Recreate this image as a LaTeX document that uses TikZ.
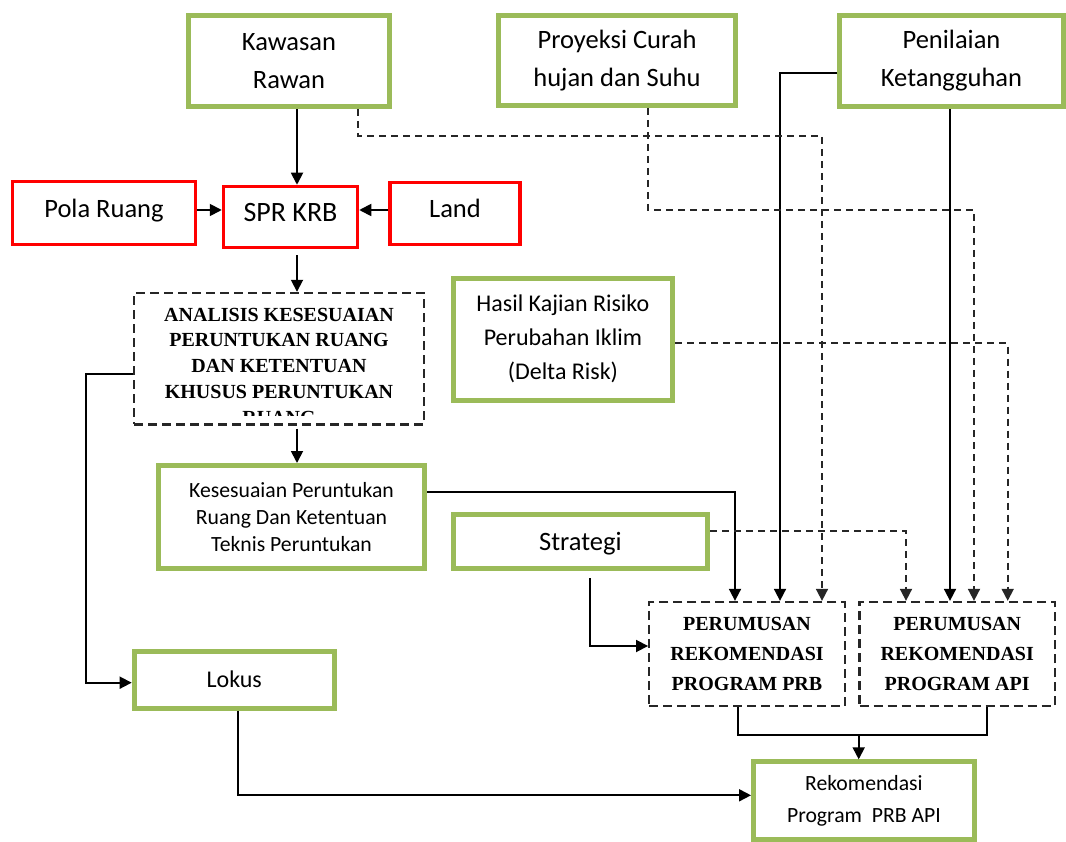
\documentclass[tikz,border=0pt]{standalone}
\usepackage{fontspec}
\setmainfont{Carlito}
\newfontfamily\judul{Liberation Serif}
\usetikzlibrary{arrows.meta}
\definecolor{hijau}{RGB}{155,187,89}

\begin{document}
\begin{tikzpicture}[x=1pt,y=-1pt,
	>={Triangle[length=12pt,width=12pt]},
	kotakhijau/.style={draw=hijau, line width=5pt, align=center, inner sep=0pt},
	kotakmerah/.style={draw=red, line width=3.5pt, align=center, inner sep=0pt, text height=17pt, text depth=8pt},
	kotakputus/.style={draw=black!85, line width=2.3pt, dash pattern=on 9pt off 5pt, align=center, inner sep=0pt},
	besar/.style={font={\fontsize{26.5}{38}\selectfont}},
	kecil/.style={font={\fontsize{21.7}{27}\selectfont}},
	tebal/.style={font={\judul\bfseries\fontsize{20}{#1}\selectfont}},
	garis/.style={line width=1.8pt},
	putus/.style={line width=1.8pt, dash pattern=on 7pt off 5pt, draw=black!85}]
	\useasboundingbox (0,0) rectangle (1066,842);

	% kotak atas
	\node[kotakhijau, besar, minimum width=201pt, minimum height=91pt] (kawasan) at (289,61) {Kawasan\\Rawan};
	\node[kotakhijau, besar, minimum width=237pt, minimum height=90pt] (proyeksi) at (617,60.5) {Proyeksi Curah\\hujan dan Suhu};
	\node[kotakhijau, besar, minimum width=224pt, minimum height=91pt] (penilaian) at (951.5,61) {Penilaian\\Ketangguhan};

	% kotak merah
	\node[kotakmerah, besar, minimum width=183pt, minimum height=63pt] (pola) at (104,213) {Pola Ruang};
	\node[kotakmerah, font={\fontsize{28}{34}\selectfont}, minimum width=134pt, minimum height=61pt] (spr) at (290.5,217) {SPR KRB};
	\node[kotakmerah, besar, minimum width=130pt, minimum height=62pt] (land) at (455,213.5) {Land};

	% analisis (teks terpotong)
	\node[kotakputus, minimum width=289.6pt, minimum height=131.5pt] (analisis) at (279,358.7) {};
	\begin{scope}
		\clip ([yshift=9.7pt]analisis.south west) rectangle (analisis.north east);
		\node[tebal=25.7, align=center, inner sep=0pt, anchor=north] (analisisteks) at ([yshift=-16pt]analisis.north)
			{ANALISIS KESESUAIAN\\PERUNTUKAN RUANG\\DAN KETENTUAN\\KHUSUS PERUNTUKAN\\RUANG};
	\end{scope}

	% kotak tengah
	\node[kotakhijau, font={\fontsize{24}{34}\selectfont}, minimum width=219.3pt, minimum height=121.7pt] (hasil) at (562.9,339.3) {Hasil Kajian Risiko\\Perubahan Iklim\\(Delta Risk)};
	\node[kotakhijau, kecil, minimum width=266pt, minimum height=103pt] (sesuai) at (291.5,517) {Kesesuaian Peruntukan\\Ruang Dan Ketentuan\\Teknis Peruntukan};
	\node[kotakhijau, besar, text height=17pt, text depth=0pt, minimum width=254.3pt, minimum height=54pt] (strategi) at (580.4,541.5) {Strategi};
	\node[kotakhijau, font={\fontsize{24}{30}\selectfont}, text height=15.5pt, text depth=0pt, minimum width=200pt, minimum height=56.7pt] (lokus) at (234.2,679.9) {Lokus};

	% perumusan
	\node[kotakputus, tebal=30, minimum width=195.6pt, minimum height=104pt] (prb) at (747,654) {PERUMUSAN\\REKOMENDASI\\PROGRAM PRB};
	\node[kotakputus, tebal=30, minimum width=195.3pt, minimum height=104pt] (api) at (957.2,654) {PERUMUSAN\\REKOMENDASI\\PROGRAM API};

	% hasil akhir
	\node[kotakhijau, font={\fontsize{21.7}{31.7}\selectfont}, minimum width=220.7pt, minimum height=77.7pt] (rekom) at (863.9,800.7) {Rekomendasi\\Program~~PRB API};

	% Kawasan Rawan ke SPR KRB
	\draw[garis] [->] ([xshift=8pt]kawasan.south) -- ([xshift=6.5pt]spr.north);

	% Pola Ruang dan Land ke SPR KRB
	\draw[garis] [->] ([yshift=3pt]pola.east) -- ([yshift=7pt]spr.west);
	\draw[garis] [->] ([yshift=3.5pt]land.west) -- ([yshift=7pt]spr.east);

	% SPR KRB ke analisis
	\draw[garis, shorten <=6pt] [->] ([xshift=6.5pt]spr.south) -- ([xshift=18pt]analisis.north);

	% analisis ke Kesesuaian dan Lokus
	\draw[garis, shorten <=3pt] [->] ([xshift=18pt]analisis.south) -- ([xshift=5.5pt]sesuai.north);
	\coordinate (belok) at (86,682.7);
	\draw[garis] [->] ([yshift=-15.6pt]analisis.west) -| (belok) -- ([yshift=-2.8pt]lokus.west);

	% masukan PRB
	\draw[garis] [->] ([yshift=24.7pt]sesuai.east) -| ([xshift=-12pt]prb.north);
	\draw[garis] [->] ([yshift=-11.7pt]penilaian.west) -| ([xshift=33pt]prb.north);
	\draw[putus] [->] ([xshift=69pt]kawasan.south) -- ++(0,27) -| ([xshift=75pt]prb.north);
	\draw[garis, shorten <=7pt] [->] ([xshift=9.6pt]strategi.south) |- ([yshift=8pt]prb.west);

	% masukan API
	\draw[putus] [->] ([xshift=31pt]proyeksi.south) -- ++(0,102) -| ([xshift=16.8pt]api.north);
	\draw[garis] [->] ([xshift=-1.5pt]penilaian.south) -- ([xshift=-7.2pt]api.north);
	\draw[putus] [->] ([yshift=-4pt]hasil.east) -| ([xshift=50.5pt]api.north);
	\draw[putus] [->] ([yshift=10.8pt]strategi.east) -| ([xshift=-51.2pt]api.north);

	% ke Rekomendasi
	\coordinate (gabung) at ([xshift=-5.2pt,yshift=24.3pt]rekom.north);
	\draw[garis] ([xshift=-8.7pt]prb.south) |- (gabung) -| ([xshift=29.8pt]api.south);
	\draw[garis] [->] (gabung) -- ([xshift=-5.2pt]rekom.north);
	\draw[garis] [->] ([xshift=3.5pt]lokus.south) |- ([yshift=5.4pt]rekom.west);

\end{tikzpicture}
\end{document}
